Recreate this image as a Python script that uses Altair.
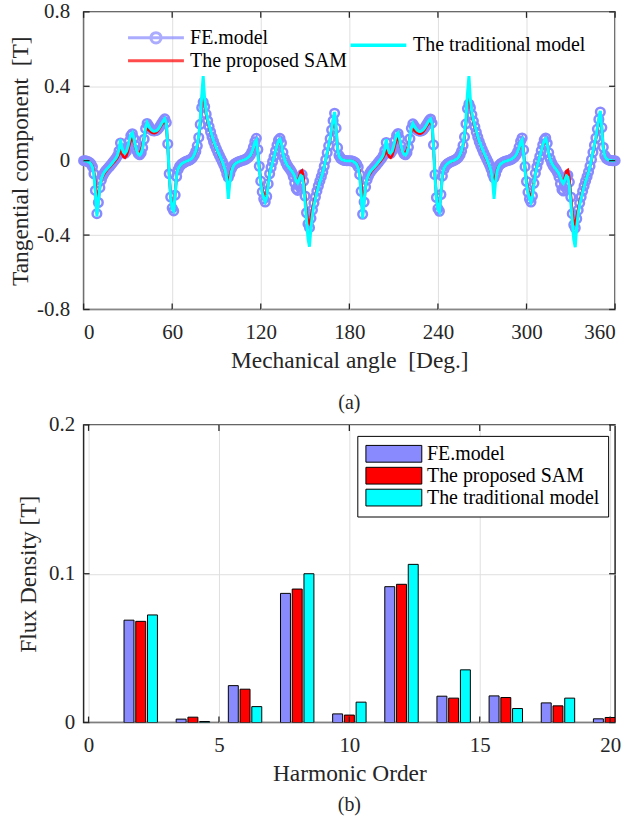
import altair as alt
import pandas as pd

FONT = "Liberation Serif"
FE_COLOR = "#8a8aff"
SAM_COLOR = "#ff0000"
TRAD_COLOR = "#00ffff"
TEXT = "#262626"
GRID = "#dfdfdf"

FE = "FE.model"
SAM = "The proposed SAM"
TRAD = "The traditional model"

# ---------------- (a) tangential flux density vs mechanical angle ----------------
angles = list(range(0, 361))

fe_first = [
    0.000, 0.000, -0.002, -0.005, -0.010, -0.018, -0.033, -0.070, -0.160, -0.285,
    -0.225, -0.145, -0.105, -0.082, -0.066, -0.054, -0.045, -0.036, -0.027, -0.017,
    -0.007, 0.003, 0.013, 0.027, 0.052, 0.095, 0.065, 0.045, 0.040, 0.050,
    0.073, 0.105, 0.135, 0.145, 0.120, 0.082, 0.055, 0.038, 0.032, 0.042,
    0.070, 0.115, 0.172, 0.200, 0.188, 0.175, 0.166, 0.161, 0.160, 0.162,
    0.167, 0.176, 0.188, 0.201, 0.214, 0.225, 0.205, 0.090, -0.070, -0.195,
    -0.255, -0.270, -0.185, -0.085, -0.048, -0.031, -0.021, -0.015, -0.010, -0.005,
    -0.002, 0.001, 0.005, 0.010, 0.018, 0.031, 0.050, 0.080, 0.125, 0.195,
    0.285, 0.315, 0.290, 0.250, 0.215, 0.183, 0.154, 0.127, 0.103, 0.082,
    0.062, 0.044, 0.027, 0.011, -0.006, -0.024, -0.045, -0.072, -0.090, -0.072,
    -0.046, -0.030, -0.020, -0.014, -0.010, -0.006, -0.003, 0.000, 0.002, 0.005,
    0.009, 0.014, 0.021, 0.032, 0.048, 0.072, 0.102, 0.120, 0.060, -0.030,
    -0.110, -0.168, -0.205, -0.222, -0.192, -0.125, -0.070, -0.036, -0.006, 0.022,
    0.052, 0.083, 0.110, 0.120, 0.095, 0.045, 0.012, -0.010, -0.026, -0.037,
    -0.048, -0.062, -0.085, -0.120, -0.150, -0.160, -0.125, -0.085, -0.075, -0.110,
    -0.190, -0.280, -0.340, -0.360, -0.310, -0.265, -0.228, -0.195, -0.164, -0.136,
    -0.110, -0.086, -0.060, -0.030, 0.005, 0.043, 0.080, 0.118, 0.165, 0.215,
    0.255, 0.175, 0.070, 0.028, 0.013, 0.007, 0.003, 0.001, 0.000, 0.000,
]
fe_second = [
    0.000, 0.000, -0.002, -0.005, -0.010, -0.019, -0.035, -0.075, -0.165, -0.288,
    -0.222, -0.142, -0.103, -0.081, -0.065, -0.053, -0.044, -0.035, -0.026, -0.016,
    -0.006, 0.004, 0.014, 0.028, 0.055, 0.098, 0.064, 0.044, 0.040, 0.051,
    0.075, 0.107, 0.136, 0.146, 0.118, 0.080, 0.053, 0.037, 0.032, 0.043,
    0.072, 0.118, 0.174, 0.198, 0.186, 0.174, 0.165, 0.160, 0.159, 0.161,
    0.166, 0.176, 0.189, 0.202, 0.215, 0.224, 0.202, 0.085, -0.075, -0.198,
    -0.258, -0.272, -0.182, -0.083, -0.047, -0.030, -0.020, -0.014, -0.009, -0.005,
    -0.002, 0.002, 0.006, 0.011, 0.019, 0.032, 0.051, 0.082, 0.128, 0.198,
    0.280, 0.305, 0.285, 0.247, 0.213, 0.182, 0.153, 0.126, 0.102, 0.081,
    0.061, 0.043, 0.026, 0.010, -0.007, -0.025, -0.046, -0.073, -0.092, -0.073,
    -0.047, -0.030, -0.020, -0.014, -0.009, -0.005, -0.002, 0.000, 0.002, 0.005,
    0.009, 0.014, 0.021, 0.032, 0.048, 0.073, 0.104, 0.122, 0.058, -0.032,
    -0.112, -0.170, -0.206, -0.222, -0.190, -0.122, -0.068, -0.034, -0.005, 0.023,
    0.054, 0.085, 0.112, 0.122, 0.094, 0.043, 0.011, -0.011, -0.027, -0.038,
    -0.049, -0.064, -0.088, -0.124, -0.155, -0.163, -0.128, -0.088, -0.078, -0.115,
    -0.195, -0.285, -0.345, -0.362, -0.312, -0.266, -0.228, -0.195, -0.164, -0.136,
    -0.110, -0.086, -0.060, -0.030, 0.006, 0.045, 0.083, 0.122, 0.170, 0.222,
    0.262, 0.178, 0.072, 0.028, 0.013, 0.007, 0.003, 0.001, 0.000, 0.000,
    0.000,
]

sam_first = [
    0.000, 0.000, -0.002, -0.004, -0.008, -0.015, -0.028, -0.055, -0.115, -0.195,
    -0.190, -0.140, -0.106, -0.086, -0.071, -0.059, -0.049, -0.040, -0.032, -0.023,
    -0.014, -0.005, 0.005, 0.017, 0.033, 0.050, 0.035, 0.020, 0.015, 0.026,
    0.050, 0.085, 0.110, 0.120, 0.100, 0.070, 0.050, 0.042, 0.045, 0.060,
    0.090, 0.130, 0.160, 0.170, 0.165, 0.158, 0.152, 0.148, 0.147, 0.150,
    0.157, 0.167, 0.180, 0.193, 0.204, 0.210, 0.190, 0.070, -0.080, -0.190,
    -0.245, -0.250, -0.170, -0.082, -0.047, -0.031, -0.021, -0.015, -0.010, -0.005,
    -0.002, 0.001, 0.005, 0.010, 0.017, 0.029, 0.048, 0.078, 0.125, 0.200,
    0.310, 0.357, 0.300, 0.245, 0.210, 0.180, 0.152, 0.126, 0.102, 0.081,
    0.061, 0.042, 0.024, 0.006, -0.014, -0.036, -0.062, -0.095, -0.107, -0.080,
    -0.050, -0.032, -0.021, -0.015, -0.010, -0.006, -0.003, 0.000, 0.002, 0.005,
    0.009, 0.013, 0.019, 0.028, 0.042, 0.062, 0.085, 0.100, 0.040, -0.040,
    -0.105, -0.150, -0.180, -0.190, -0.170, -0.115, -0.065, -0.034, -0.006, 0.020,
    0.048, 0.076, 0.100, 0.108, 0.085, 0.040, 0.010, -0.010, -0.024, -0.034,
    -0.044, -0.055, -0.068, -0.085, -0.105, -0.115, -0.085, -0.058, -0.052, -0.090,
    -0.180, -0.270, -0.330, -0.340, -0.300, -0.258, -0.222, -0.190, -0.160, -0.132,
    -0.107, -0.084, -0.060, -0.032, 0.002, 0.038, 0.074, 0.110, 0.155, 0.205,
    0.240, 0.165, 0.065, 0.026, 0.012, 0.006, 0.003, 0.001, 0.000, 0.000,
]
sam_second = [
    0.000, 0.000, -0.002, -0.004, -0.008, -0.016, -0.030, -0.058, -0.120, -0.200,
    -0.188, -0.138, -0.105, -0.085, -0.070, -0.058, -0.048, -0.039, -0.031, -0.022,
    -0.013, -0.004, 0.006, 0.018, 0.034, 0.052, 0.036, 0.021, 0.016, 0.027,
    0.052, 0.087, 0.112, 0.121, 0.100, 0.069, 0.049, 0.041, 0.044, 0.059,
    0.089, 0.128, 0.158, 0.168, 0.163, 0.156, 0.150, 0.146, 0.145, 0.148,
    0.155, 0.166, 0.179, 0.192, 0.203, 0.209, 0.188, 0.068, -0.082, -0.192,
    -0.246, -0.251, -0.168, -0.080, -0.046, -0.030, -0.020, -0.014, -0.009, -0.005,
    -0.002, 0.002, 0.006, 0.011, 0.018, 0.030, 0.049, 0.080, 0.128, 0.205,
    0.315, 0.350, 0.295, 0.242, 0.208, 0.178, 0.150, 0.124, 0.100, 0.080,
    0.060, 0.041, 0.023, 0.005, -0.015, -0.037, -0.063, -0.096, -0.108, -0.079,
    -0.049, -0.031, -0.020, -0.014, -0.009, -0.005, -0.002, 0.000, 0.002, 0.005,
    0.009, 0.013, 0.019, 0.029, 0.043, 0.064, 0.087, 0.102, 0.038, -0.042,
    -0.108, -0.152, -0.181, -0.190, -0.168, -0.112, -0.062, -0.032, -0.004, 0.022,
    0.050, 0.078, 0.102, 0.110, 0.084, 0.038, 0.009, -0.011, -0.025, -0.035,
    -0.045, -0.056, -0.069, -0.086, -0.106, -0.116, -0.086, -0.056, -0.050, -0.092,
    -0.182, -0.272, -0.332, -0.342, -0.300, -0.257, -0.220, -0.188, -0.158, -0.130,
    -0.105, -0.082, -0.058, -0.030, 0.004, 0.040, 0.077, 0.114, 0.160, 0.212,
    0.246, 0.168, 0.066, 0.026, 0.012, 0.006, 0.003, 0.001, 0.000, 0.000,
    0.000,
]

trad_first = [
    0.000, 0.000, -0.002, -0.005, -0.010, -0.018, -0.035, -0.075, -0.170, -0.300,
    -0.220, -0.140, -0.100, -0.078, -0.062, -0.052, -0.043, -0.035, -0.026, -0.016,
    -0.006, 0.004, 0.015, 0.030, 0.060, 0.115, 0.070, 0.045, 0.040, 0.050,
    0.075, 0.110, 0.140, 0.150, 0.120, 0.080, 0.052, 0.036, 0.030, 0.040,
    0.070, 0.120, 0.180, 0.205, 0.190, 0.175, 0.165, 0.160, 0.158, 0.160,
    0.165, 0.175, 0.188, 0.202, 0.215, 0.225, 0.200, 0.080, -0.080, -0.200,
    -0.260, -0.270, -0.180, -0.080, -0.045, -0.030, -0.020, -0.014, -0.009, -0.005,
    -0.002, 0.001, 0.005, 0.010, 0.018, 0.032, 0.052, 0.085, 0.135, 0.215,
    0.350, 0.455, 0.330, 0.262, 0.222, 0.190, 0.160, 0.132, 0.107, 0.086,
    0.066, 0.047, 0.030, 0.012, -0.008, -0.030, -0.056, -0.100, -0.205, -0.120,
    -0.062, -0.036, -0.022, -0.015, -0.010, -0.006, -0.003, 0.000, 0.002, 0.005,
    0.009, 0.014, 0.020, 0.030, 0.045, 0.068, 0.098, 0.110, 0.040, -0.050,
    -0.120, -0.170, -0.200, -0.220, -0.195, -0.130, -0.072, -0.038, -0.008, 0.020,
    0.050, 0.080, 0.105, 0.115, 0.090, 0.040, 0.010, -0.010, -0.025, -0.035,
    -0.045, -0.056, -0.068, -0.085, -0.110, -0.120, -0.100, -0.080, -0.085, -0.130,
    -0.220, -0.320, -0.420, -0.462, -0.360, -0.290, -0.240, -0.205, -0.170, -0.140,
    -0.112, -0.088, -0.062, -0.032, 0.005, 0.045, 0.082, 0.120, 0.170, 0.222,
    0.262, 0.170, 0.065, 0.025, 0.012, 0.006, 0.003, 0.001, 0.000, 0.000,
]
trad_second = [
    0.000, 0.000, -0.002, -0.006, -0.011, -0.020, -0.038, -0.080, -0.180, -0.310,
    -0.215, -0.138, -0.099, -0.077, -0.061, -0.051, -0.042, -0.034, -0.025, -0.015,
    -0.005, 0.005, 0.016, 0.032, 0.065, 0.116, 0.068, 0.044, 0.041, 0.052,
    0.078, 0.112, 0.142, 0.150, 0.118, 0.078, 0.050, 0.035, 0.030, 0.042,
    0.072, 0.122, 0.178, 0.200, 0.187, 0.173, 0.163, 0.158, 0.157, 0.160,
    0.166, 0.176, 0.189, 0.203, 0.216, 0.224, 0.198, 0.075, -0.085, -0.205,
    -0.262, -0.275, -0.178, -0.078, -0.044, -0.029, -0.019, -0.013, -0.008, -0.004,
    -0.001, 0.002, 0.006, 0.011, 0.019, 0.033, 0.054, 0.088, 0.140, 0.225,
    0.360, 0.455, 0.325, 0.258, 0.220, 0.188, 0.158, 0.130, 0.105, 0.084,
    0.064, 0.045, 0.028, 0.010, -0.010, -0.032, -0.058, -0.105, -0.205, -0.115,
    -0.058, -0.034, -0.021, -0.014, -0.009, -0.005, -0.002, 0.000, 0.002, 0.005,
    0.009, 0.014, 0.021, 0.031, 0.047, 0.070, 0.100, 0.112, 0.035, -0.055,
    -0.125, -0.172, -0.202, -0.222, -0.190, -0.125, -0.068, -0.035, -0.006, 0.022,
    0.052, 0.083, 0.108, 0.118, 0.088, 0.038, 0.009, -0.011, -0.026, -0.036,
    -0.046, -0.057, -0.070, -0.088, -0.112, -0.122, -0.102, -0.082, -0.088, -0.135,
    -0.225, -0.325, -0.425, -0.465, -0.355, -0.285, -0.236, -0.202, -0.168, -0.138,
    -0.110, -0.086, -0.060, -0.030, 0.008, 0.048, 0.086, 0.125, 0.175, 0.228,
    0.268, 0.172, 0.066, 0.025, 0.012, 0.006, 0.003, 0.001, 0.000, 0.000,
    0.000,
]

angle_ticks = [0, 60, 120, 180, 240, 300, 360]
tangential_ticks = [-0.8, -0.4, 0.0, 0.4, 0.8]

# ---------------- (b) harmonic spectrum ----------------
harmonics = [2, 4, 6, 8, 10, 12, 14, 16, 18, 20]
fe_harm = [0.0688, 0.0023, 0.0248, 0.0868, 0.0058, 0.0913, 0.0177, 0.0179, 0.0132, 0.0025]
sam_harm = [0.0680, 0.0036, 0.0224, 0.0897, 0.0050, 0.0929, 0.0164, 0.0168, 0.0112, 0.0034]
trad_harm = [0.0723, 0.0007, 0.0107, 0.1000, 0.0137, 0.1063, 0.0354, 0.0094, 0.0164, 0.0030]

order_ticks = [0, 5, 10, 15, 20]
flux_ticks = [0.0, 0.1, 0.2]

# ---------------- tables ----------------
curves = pd.concat([
    pd.DataFrame({"angle": angles, "value": fe_first + fe_second, "curve": FE}),
    pd.DataFrame({"angle": angles, "value": sam_first + sam_second, "curve": SAM}),
    pd.DataFrame({"angle": angles, "value": trad_first + trad_second, "curve": TRAD}),
], ignore_index=True)

spectrum = pd.concat([
    pd.DataFrame({"order": harmonics, "amp": fe_harm, "model": FE}),
    pd.DataFrame({"order": harmonics, "amp": sam_harm, "model": SAM}),
    pd.DataFrame({"order": harmonics, "amp": trad_harm, "model": TRAD}),
], ignore_index=True)

W, H = 534, 299
NB = "\u00a0"

# legend glyphs: unit paths stretched to the right of the entry anchor
LINE_GLYPH = "M-1,0H5"
FE_GLYPH = "M-1,0H5M1.45,0A0.55,0.55,0,1,0,2.55,0A0.55,0.55,0,1,0,1.45,0"
PATCH_GLYPH = "M-1,-0.9H5V0.9H-1Z"

signed_label = ("datum.value == 0 ? '0' : (datum.value < 0 ? '-' + format(-datum.value, '.1f')"
                " : format(datum.value, '.1f'))")

axis_text = dict(labelFont=FONT, titleFont=FONT, labelFontSize=21, titleFontSize=23.5,
                 labelColor=TEXT, titleColor=TEXT, titleFontWeight="normal",
                 gridColor=GRID, gridWidth=1, domain=False, ticks=False, grid=True)

angle_x = alt.X("angle:Q",
                scale=alt.Scale(domain=[0, 360], nice=False, zero=False),
                axis=alt.Axis(values=angle_ticks, format="d",
                              title=f"Mechanical angle{NB}{NB}[Deg.]",
                              labelPadding=12, titlePadding=6, **axis_text))
tang_y = alt.Y("value:Q",
               scale=alt.Scale(domain=[-0.8, 0.8], nice=False, zero=False),
               axis=alt.Axis(values=tangential_ticks, labelExpr=signed_label,
                             title=f"Tangential component{NB}{NB}[T]",
                             labelPadding=14, titlePadding=4, **axis_text))

base_a = alt.Chart(curves)

fe_line = base_a.transform_filter(alt.datum.curve == FE).mark_line(
    color=FE_COLOR, strokeWidth=3).encode(x=angle_x, y=tang_y)
fe_marks = base_a.transform_filter(alt.datum.curve == FE).mark_point(
    shape="circle", filled=False, color=FE_COLOR, size=75, strokeWidth=2.5, opacity=1
).encode(x="angle:Q", y="value:Q")
sam_line = base_a.transform_filter(alt.datum.curve == SAM).mark_line(
    color=SAM_COLOR, strokeWidth=2.5).encode(x="angle:Q", y="value:Q")
trad_line = base_a.transform_filter(alt.datum.curve == TRAD).mark_line(
    color=TRAD_COLOR, strokeWidth=3).encode(
    x="angle:Q", y="value:Q",
    strokeDash=alt.StrokeDash(
        "curve:N",
        scale=alt.Scale(domain=[TRAD], range=[[1, 0]]),
        legend=alt.Legend(title=None, orient="none", legendX=266, legendY=22,
                          symbolType=LINE_GLYPH, symbolSize=350, symbolStrokeWidth=3.5,
                          symbolStrokeColor=TRAD_COLOR, labelOffset=42, padding=0,
                          labelFontSize=20, labelFont=FONT, labelColor="#000000")))

left_legend = alt.Legend(title=None, orient="none", legendX=43, legendY=15,
                         symbolSize=350, symbolStrokeWidth=3, labelOffset=42,
                         rowPadding=0, padding=0, labelFontSize=20, labelFont=FONT,
                         labelColor="#000000")
legend_a = base_a.transform_filter("false").mark_point(
    filled=False, strokeWidth=3, size=350).encode(
    x="angle:Q", y="value:Q",
    color=alt.Color("curve:N", scale=alt.Scale(domain=[FE, SAM], range=[FE_COLOR, SAM_COLOR]),
                    legend=left_legend),
    shape=alt.Shape("curve:N", scale=alt.Scale(domain=[FE, SAM], range=[FE_GLYPH, LINE_GLYPH]),
                    legend=left_legend))

ax_ticks = alt.Chart(pd.DataFrame({"angle": angle_ticks}))
val_ticks = alt.Chart(pd.DataFrame({"value": tangential_ticks}))
tick_style = dict(color=TEXT, strokeWidth=1.3)
ticks_a = [
    ax_ticks.mark_rule(**tick_style).encode(x="angle:Q", y=alt.value(H), y2=alt.value(H - 6)),
    ax_ticks.mark_rule(**tick_style).encode(x="angle:Q", y=alt.value(0), y2=alt.value(6)),
    val_ticks.mark_rule(**tick_style).encode(y="value:Q", x=alt.value(0), x2=alt.value(6)),
    val_ticks.mark_rule(**tick_style).encode(y="value:Q", x=alt.value(W), x2=alt.value(W - 6)),
]

panel_a = alt.layer(fe_line, fe_marks, sam_line, trad_line, legend_a, *ticks_a).properties(
    width=W, height=H,
    title=alt.TitleParams("(a)", orient="bottom", offset=21, font=FONT, fontSize=20,
                          fontWeight="normal", color=TEXT))

# ---------------- panel (b) ----------------
order_x = alt.X("pos:Q",
                scale=alt.Scale(domain=[0, 20], nice=False, zero=False),
                axis=alt.Axis(values=order_ticks, format="d",
                              title="Harmonic Order", labelPadding=12, titlePadding=6,
                              **axis_text))
flux_y = alt.Y("amp:Q",
               scale=alt.Scale(domain=[0, 0.2], nice=False),
               axis=alt.Axis(values=flux_ticks, labelExpr=signed_label,
                             title="Flux Density [T]", labelPadding=9, titlePadding=8,
                             **axis_text))

bars = alt.Chart(spectrum).transform_calculate(
    pos=f"datum.order + (datum.model == '{FE}' ? -0.45 : (datum.model == '{TRAD}' ? 0.45 : 0))"
).mark_bar(size=10, stroke="#000000", strokeWidth=1, clip=True).encode(
    x=order_x, y=flux_y,
    color=alt.Color("model:N",
                    scale=alt.Scale(domain=[FE, SAM, TRAD], range=[FE_COLOR, SAM_COLOR, TRAD_COLOR]),
                    legend=alt.Legend(title=None, orient="none", legendX=275, legendY=11,
                                      symbolType=PATCH_GLYPH, symbolSize=350,
                                      symbolStrokeColor="#000000", symbolStrokeWidth=1,
                                      labelOffset=42, rowPadding=0, padding=8,
                                      strokeColor="#000000", fillColor="#ffffff",
                                      labelFontSize=20, labelFont=FONT, labelColor="#000000")))

ord_ticks = alt.Chart(pd.DataFrame({"pos": order_ticks}))
flx_ticks = alt.Chart(pd.DataFrame({"amp": flux_ticks}))
ticks_b = [
    ord_ticks.mark_rule(**tick_style).encode(x="pos:Q", y=alt.value(H), y2=alt.value(H - 6)),
    ord_ticks.mark_rule(**tick_style).encode(x="pos:Q", y=alt.value(0), y2=alt.value(6)),
    flx_ticks.mark_rule(**tick_style).encode(y="amp:Q", x=alt.value(0), x2=alt.value(6)),
    flx_ticks.mark_rule(**tick_style).encode(y="amp:Q", x=alt.value(W), x2=alt.value(W - 6)),
]

panel_b = alt.layer(bars, *ticks_b).properties(
    width=W, height=H,
    title=alt.TitleParams("(b)", orient="bottom", offset=10, font=FONT, fontSize=20,
                          fontWeight="normal", color=TEXT))

chart = alt.vconcat(panel_a, panel_b, spacing=116, bounds="flush").resolve_scale(
    color="independent", shape="independent", strokeDash="independent"
).resolve_legend(
    color="independent", shape="independent", strokeDash="independent"
).properties(
    padding={"left": 8, "top": -2, "right": 10, "bottom": 5},
    background="#ffffff",
).configure(
    font=FONT
).configure_view(
    stroke=TEXT, strokeWidth=1.5
).configure_legend(
    labelFont=FONT, labelColor="#000000", labelLimit=400,
)

chart.save("out.html", embed_options={"renderer": "svg", "actions": False})
